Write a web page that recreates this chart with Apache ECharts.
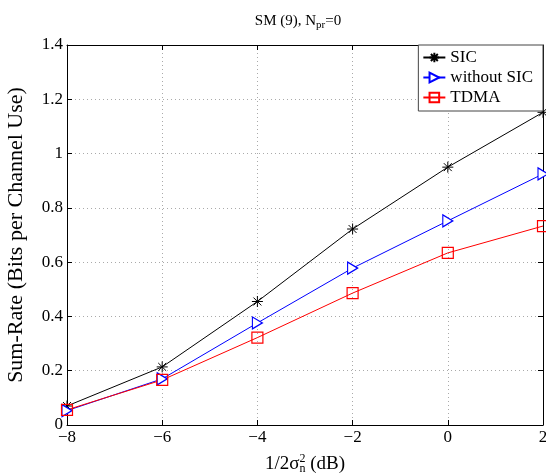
<!DOCTYPE html>
<html><head><meta charset="utf-8">
<script src="https://cdn.jsdelivr.net/npm/echarts@6/dist/echarts.min.js"></script>
<style>html,body{margin:0;padding:0;background:#fff}#c{width:546px;height:475px}</style>
</head><body><div id="c"></div>
<script>
const xValues = [-8, -6, -4, -2, 0, 2];
const sicValues = [0.07, 0.214, 0.455, 0.722, 0.95, 1.152];
const withoutSicValues = [0.053, 0.17, 0.376, 0.578, 0.752, 0.925];
const tdmaValues = [0.056, 0.166, 0.322, 0.486, 0.634, 0.733];
const seriesNames = ['SIC', 'without SIC', 'TDMA'];

const F = 'Liberation Serif, Times New Roman, serif';
const pair = v => xValues.map((x, i) => [x, v[i]]);
const minus = v => String(v).replace('-', '\u2212');
const star = 'path://M0,-5L0,5M-5,0L5,0M-3.6,-3.6L3.6,3.6M-3.6,3.6L3.6,-3.6';

const chart = echarts.init(document.getElementById('c'));
const gridLine = {show: true, lineStyle: {color: '#aaa', type: [1, 3], width: 1}};
const inTick = {show: true, inside: true, length: 5, lineStyle: {color: '#000'}};
chart.setOption({
  animation: false,
  backgroundColor: '#fff',
  title: {
    text: '{a|SM (9), N}{s|pr}{a|=0}',
    left: 293, top: 7, textAlign: 'center',
    textStyle: {fontWeight: 'normal', rich: {
      a: {fontFamily: F, fontSize: 15, color: '#000', fontWeight: 'normal'},
      s: {fontFamily: F, fontSize: 11, color: '#000', fontWeight: 'normal', verticalAlign: 'bottom', padding: [8, 0, 0, 0]}
    }}
  },
  grid: {left: 67, right: 3, top: 45, bottom: 50, containLabel: false, outerBoundsMode: 'none'},
  legend: {
    data: seriesNames,
    orient: 'vertical', right: 3, top: 45,
    backgroundColor: '#fff', borderColor: '#444', borderWidth: 1,
    padding: [4, 10, 5, 4], itemGap: 3, itemWidth: 22, itemHeight: 12,
    textStyle: {fontFamily: F, fontSize: 17, color: '#000'}
  },
  xAxis: [{
    type: 'value', min: -8, max: 2, interval: 2,
    axisLine: {show: true, onZero: false, lineStyle: {color: '#000'}},
    axisTick: inTick, splitLine: gridLine,
    axisLabel: {formatter: minus, fontFamily: F, fontSize: 17, color: '#000', margin: 4},
    name: '{a|1/2σ}{s|n}{p|2}{a| (dB)}', nameLocation: 'middle', nameGap: 28,
    nameTextStyle: {rich: {
      a: {fontFamily: F, fontSize: 19, color: '#000'},
      s: {fontFamily: F, fontSize: 12, color: '#000', verticalAlign: 'bottom', padding: [10, 0, 0, 0]},
      p: {fontFamily: F, fontSize: 12, color: '#000', verticalAlign: 'top', padding: [0, 0, 9, -6]}
    }}
  }, {
    type: 'value', min: -8, max: 2, interval: 2, position: 'top',
    axisLine: {show: true, onZero: false, lineStyle: {color: '#000'}},
    axisTick: inTick, axisLabel: {show: false}, splitLine: {show: false}
  }],
  yAxis: [{
    type: 'value', min: 0, max: 1.4, interval: 0.2,
    axisLine: {show: true, onZero: false, lineStyle: {color: '#000'}},
    axisTick: inTick, splitLine: gridLine,
    axisLabel: {fontFamily: F, fontSize: 17, color: '#000', margin: 4},
    name: 'Sum-Rate (Bits per Channel Use)', nameLocation: 'middle', nameGap: 40,
    nameTextStyle: {fontFamily: F, fontSize: 22, color: '#000'}
  }, {
    type: 'value', min: 0, max: 1.4, interval: 0.2, position: 'right',
    axisLine: {show: true, onZero: false, lineStyle: {color: '#000'}},
    axisTick: inTick, axisLabel: {show: false}, splitLine: {show: false}
  }],
  series: [{
    name: seriesNames[0], type: 'line', data: pair(sicValues),
    symbol: star, symbolSize: 11,
    lineStyle: {color: '#000', width: 1},
    itemStyle: {color: '#000', borderColor: '#000', borderWidth: 1}
  }, {
    name: seriesNames[1], type: 'line', data: pair(withoutSicValues),
    symbol: 'triangle', symbolRotate: -90, symbolSize: [12, 10],
    lineStyle: {color: '#00f', width: 1},
    itemStyle: {color: '#fff', borderColor: '#00f', borderWidth: 1.2}
  }, {
    name: seriesNames[2], type: 'line', data: pair(tdmaValues),
    symbol: 'rect', symbolSize: 11,
    lineStyle: {color: '#f00', width: 1},
    itemStyle: {color: 'rgba(255,255,255,0)', borderColor: '#f00', borderWidth: 1.2}
  }]
});
</script></body></html>
